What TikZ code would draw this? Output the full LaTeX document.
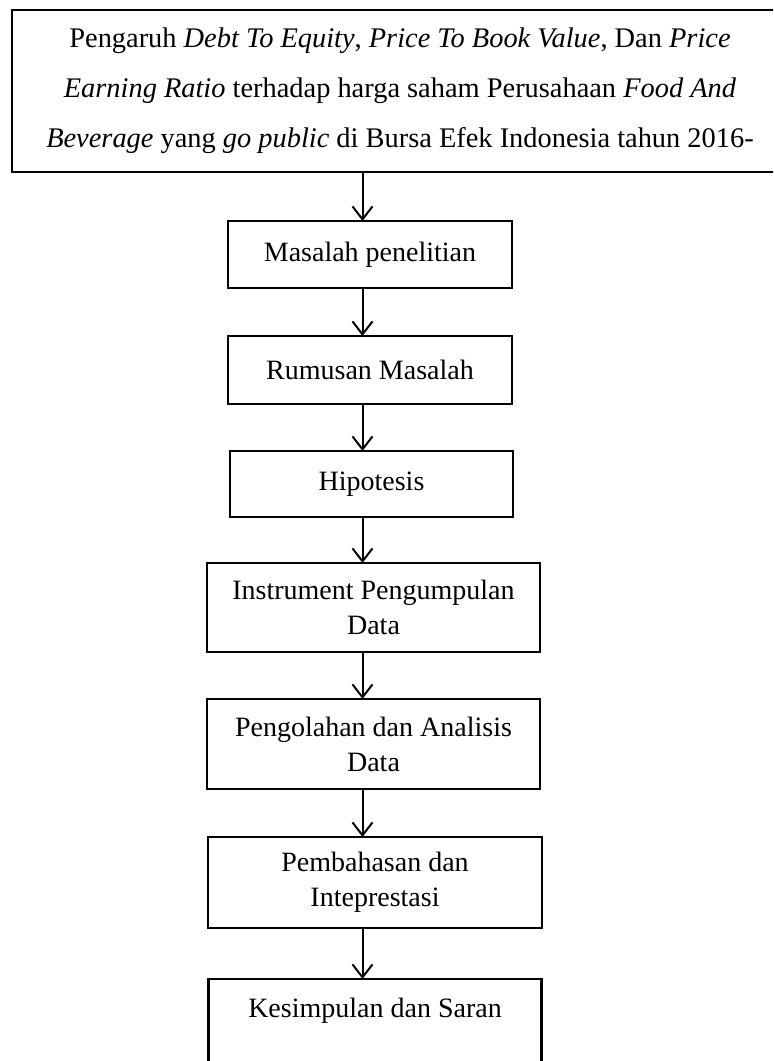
\documentclass[tikz,border=0pt]{standalone}
\usepackage{fontspec}
\setmainfont{Liberation Serif}
\usepackage{tikz}
\usetikzlibrary{positioning,arrows.meta}

\begin{document}
\begin{tikzpicture}[
  x=0.5pt,y=-0.5pt,
  font=\fontsize{14}{17.5}\selectfont,
  box/.style={draw,line width=1.2pt,align=center,inner sep=0pt,outer sep=0pt},
  a/.style={-{Straight Barb[length=6.5pt,width=10pt,line width=1pt]},line width=1pt}
]
\clip (0,0) rectangle (773,1061);
\node[box,minimum width=388pt,minimum height=81pt,font=\fontsize{14.2}{25}\selectfont] (judul) at (400,91)
  {Pengaruh \textit{Debt To Equity}, \textit{Price To Book Value}, Dan \textit{Price}\\
   \textit{Earning Ratio} terhadap harga saham Perusahaan \textit{Food And}\\
   \textit{Beverage} yang \textit{go public} di Bursa Efek Indonesia tahun 2016-};
\node[box,minimum width=142pt,minimum height=33.5pt,below=24.5pt of judul,xshift=-15pt] (masalah) {Masalah penelitian};
\node[box,minimum width=142pt,minimum height=34pt,below=24pt of masalah] (rumusan) {Rumusan Masalah};
\node[box,minimum width=141.5pt,minimum height=33pt,below=23.5pt of rumusan,xshift=0.75pt] (hipotesis) {Hipotesis};
\node[box,minimum width=166.5pt,minimum height=44.5pt,below=23pt of hipotesis,xshift=1pt] (instrumen) {Instrument Pengumpulan\\Data};
\node[box,minimum width=166.5pt,minimum height=45pt,below=23.5pt of instrumen] (olah) {Pengolahan dan Analisis\\Data};
\node[box,minimum width=167pt,minimum height=45.5pt,below=24pt of olah,xshift=0.75pt] (bahas) {Pembahasan dan\\Inteprestasi};
\node[box,minimum width=166.5pt,minimum height=46pt,below=25.5pt of bahas] (simpul) {Kesimpulan dan Saran\\~};
\coordinate (ax) at (362.5,0);
\draw[a] (judul.south -| ax) -- (masalah.north -| ax);
\draw[a] (masalah.south -| ax) -- (rumusan.north -| ax);
\draw[a] (rumusan.south -| ax) -- (hipotesis.north -| ax);
\draw[a] (hipotesis.south -| ax) -- (instrumen.north -| ax);
\draw[a] (instrumen.south -| ax) -- (olah.north -| ax);
\draw[a] (olah.south -| ax) -- (bahas.north -| ax);
\draw[a] (bahas.south -| ax) -- (simpul.north -| ax);
\end{tikzpicture}
\end{document}
